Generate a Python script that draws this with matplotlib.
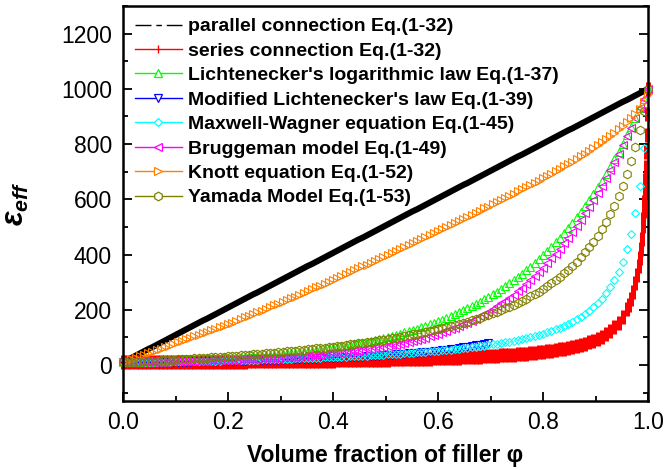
import matplotlib
matplotlib.use("Agg")
import matplotlib.pyplot as plt
from matplotlib.lines import Line2D
from matplotlib.ticker import MultipleLocator

plt.rcParams['font.family'] = ['Liberation Sans', 'DejaVu Sans']
plt.rcParams['mathtext.fontset'] = 'custom'
plt.rcParams['mathtext.it'] = 'Liberation Sans:italic:bold'
plt.rcParams['mathtext.rm'] = 'Liberation Sans:bold'
plt.rcParams['mathtext.bf'] = 'Liberation Sans:bold'

# ---------------- data ----------------
phi = [0.000, 0.008, 0.016, 0.024, 0.032, 0.040, 0.048, 0.056, 0.064, 0.072,
       0.080, 0.088, 0.096, 0.104, 0.112, 0.120, 0.128, 0.136, 0.144, 0.152,
       0.160, 0.168, 0.176, 0.184, 0.192, 0.200, 0.208, 0.216, 0.224, 0.232,
       0.240, 0.248, 0.256, 0.264, 0.272, 0.280, 0.288, 0.296, 0.304, 0.312,
       0.320, 0.328, 0.336, 0.344, 0.352, 0.360, 0.368, 0.376, 0.384, 0.392,
       0.400, 0.408, 0.416, 0.424, 0.432, 0.440, 0.448, 0.456, 0.464, 0.472,
       0.480, 0.488, 0.496, 0.504, 0.512, 0.520, 0.528, 0.536, 0.544, 0.552,
       0.560, 0.568, 0.576, 0.584, 0.592, 0.600, 0.608, 0.616, 0.624, 0.632,
       0.640, 0.648, 0.656, 0.664, 0.672, 0.680, 0.688, 0.696, 0.704, 0.712,
       0.720, 0.728, 0.736, 0.744, 0.752, 0.760, 0.768, 0.776, 0.784, 0.792,
       0.800, 0.808, 0.816, 0.824, 0.832, 0.840, 0.848, 0.856, 0.864, 0.872,
       0.880, 0.888, 0.896, 0.904, 0.912, 0.920, 0.928, 0.936, 0.944, 0.952,
       0.960, 0.968, 0.976, 0.984, 0.992, 1.000]

parallel = [10, 18, 26, 34, 42, 50, 58, 65, 73, 81,
            89, 97, 105, 113, 121, 129, 137, 145, 153, 161,
            168, 176, 184, 192, 200, 208, 216, 224, 232, 240,
            248, 256, 263, 271, 279, 287, 295, 303, 311, 319,
            327, 335, 343, 351, 359, 366, 374, 382, 390, 398,
            406, 414, 422, 430, 438, 446, 454, 461, 469, 477,
            485, 493, 501, 509, 517, 525, 533, 541, 549, 557,
            564, 572, 580, 588, 596, 604, 612, 620, 628, 636,
            644, 652, 659, 667, 675, 683, 691, 699, 707, 715,
            723, 731, 739, 747, 755, 762, 770, 778, 786, 794,
            802, 810, 818, 826, 834, 842, 850, 857, 865, 873,
            881, 889, 897, 905, 913, 921, 929, 937, 945, 953,
            960, 968, 976, 984, 992, 1000]

phi_series_tail = [0.964, 0.968, 0.972, 0.976, 0.979, 0.982, 0.984, 0.986, 0.988, 0.990,
                   0.991, 0.992, 0.993, 0.994, 0.995, 0.996, 0.997, 0.998, 0.999, 1.000]
series = [10.00, 10.08, 10.16, 10.24, 10.33, 10.41, 10.50, 10.59, 10.68, 10.77,
          10.86, 10.95, 11.05, 11.15, 11.25, 11.35, 11.45, 11.56, 11.66, 11.77,
          11.88, 12.00, 12.11, 12.23, 12.35, 12.47, 12.59, 12.72, 12.85, 12.98,
          13.12, 13.25, 13.39, 13.54, 13.69, 13.84, 13.99, 14.15, 14.31, 14.47,
          14.64, 14.81, 14.98, 15.16, 15.35, 15.54, 15.73, 15.93, 16.13, 16.34,
          16.56, 16.78, 17.00, 17.23, 17.47, 17.72, 17.97, 18.23, 18.50, 18.77,
          19.05, 19.35, 19.65, 19.96, 20.28, 20.61, 20.95, 21.31, 21.67, 22.05,
          22.44, 22.85, 23.27, 23.71, 24.16, 24.63, 25.12, 25.63, 26.16, 26.72,
          27.29, 27.90, 28.53, 29.19, 29.88, 30.60, 31.36, 32.16, 33.00, 33.88,
          34.82, 35.81, 36.85, 37.96, 39.14, 40.39, 41.72, 43.15, 44.67, 46.31,
          48.08, 49.98, 52.04, 54.28, 56.72, 59.38, 62.31, 65.55, 69.14, 73.14,
          77.64, 82.73, 88.53, 95.20, 103.0, 112.1, 123.0, 136.3, 152.8, 173.9,
          201.6,
          219.1, 239.9, 265.1, 296.2, 324.8, 359.5, 387.0, 419.1, 457.0, 502.5,
          528.8, 558.0, 590.7, 627.4, 668.9, 716.3, 771.0, 834.7, 909.9, 1000]

lichtenecker = [10.0, 10.4, 10.8, 11.2, 11.6, 12.0, 12.5, 12.9, 13.4, 13.9,
                14.5, 15.0, 15.6, 16.1, 16.7, 17.4, 18.0, 18.7, 19.4, 20.1,
                20.9, 21.7, 22.5, 23.3, 24.2, 25.1, 26.1, 27.0, 28.1, 29.1,
                30.2, 31.3, 32.5, 33.7, 35.0, 36.3, 37.7, 39.1, 40.6, 42.1,
                43.7, 45.3, 47.0, 48.8, 50.6, 52.5, 54.5, 56.5, 58.6, 60.8,
                63.1, 65.5, 67.9, 70.5, 73.1, 75.9, 78.7, 81.7, 84.7, 87.9,
                91.2, 94.6, 98.2, 102, 106, 110, 114, 118, 122, 127,
                132, 137, 142, 147, 153, 158, 164, 171, 177, 184,
                191, 198, 205, 213, 221, 229, 238, 247, 256, 265,
                275, 286, 296, 308, 319, 331, 344, 356, 370, 384,
                398, 413, 428, 445, 461, 479, 497, 515, 535, 555,
                575, 597, 619, 643, 667, 692, 718, 745, 773, 802,
                832, 863, 895, 929, 964, 1000]

mod_lichtenecker = [10.0, 10.2, 10.3, 10.5, 10.7, 10.8, 11.0, 11.2, 11.4, 11.6,
                    11.7, 12.0, 12.2, 12.4, 12.6, 12.8, 13.0, 13.3, 13.5, 13.7,
                    14.0, 14.2, 14.5, 14.8, 15.0, 15.3, 15.6, 15.9, 16.2, 16.5,
                    16.9, 17.2, 17.6, 17.9, 18.3, 18.7, 19.0, 19.5, 19.9, 20.3,
                    20.7, 21.2, 21.7, 22.1, 22.6, 23.2, 23.7, 24.2, 24.8, 25.4,
                    26.0, 26.6, 27.3, 28.0, 28.7, 29.4, 30.2, 31.0, 31.8, 32.6,
                    33.5, 34.4, 35.4, 36.4, 37.4, 38.5, 39.6, 40.7, 42.0, 43.2,
                    44.6, 45.9, 47.4, 48.9, 50.5, 52.2, 53.9, 55.7, 57.7, 59.7,
                    61.8, 64.1, 66.4, 68.9, 71.5, 74.3, 77.2, 80.3]

maxwell_wagner = [10.0, 10.2, 10.5, 10.7, 11.0, 11.2, 11.5, 11.7, 12.0, 12.3,
                  12.5, 12.8, 13.1, 13.4, 13.7, 14.0, 14.3, 14.6, 14.9, 15.2,
                  15.5, 15.8, 16.2, 16.5, 16.9, 17.2, 17.6, 18.0, 18.3, 18.7,
                  19.1, 19.5, 19.9, 20.3, 20.8, 21.2, 21.6, 22.1, 22.6, 23.0,
                  23.5, 24.0, 24.5, 25.0, 25.6, 26.1, 26.7, 27.2, 27.8, 28.4,
                  29.0, 29.7, 30.3, 31.0, 31.7, 32.4, 33.1, 33.8, 34.6, 35.4,
                  36.2, 37.0, 37.8, 38.7, 39.6, 40.6, 41.5, 42.5, 43.6, 44.6,
                  45.7, 46.9, 48.0, 49.3, 50.5, 51.8, 53.2, 54.6, 56.1, 57.6,
                  59.2, 60.9, 62.6, 64.4, 66.3, 68.2, 70.3, 72.5, 74.7, 77.1,
                  79.6, 82.2, 85.0, 88.0, 91.1, 94.3, 97.8, 101, 106, 110,
                  114, 119, 124, 130, 136, 142, 150, 157, 166, 175,
                  186, 197, 210, 225, 241, 260, 282, 308, 338, 375,
                  420, 476, 549, 648, 787, 1000]

bruggeman = [10.0, 10.2, 10.5, 10.7, 11.0, 11.3, 11.6, 11.8, 12.1, 12.4,
             12.7, 13.1, 13.4, 13.8, 14.1, 14.5, 14.9, 15.3, 15.7, 16.1,
             16.6, 17.0, 17.5, 18.0, 18.5, 19.0, 19.6, 20.1, 20.7, 21.4,
             22.0, 22.7, 23.4, 24.1, 24.8, 25.6, 26.4, 27.2, 28.1, 29.0,
             29.9, 31.0, 32.1, 33.1, 34.2, 35.3, 36.6, 37.9, 39.2, 40.5,
             42.1, 43.6, 45.1, 46.8, 48.5, 50.3, 52.4, 54.4, 56.5, 58.6,
             60.8, 63.4, 65.9, 68.4, 71.2, 74.2, 77.2, 80.3, 83.8, 87.3,
             91.0, 95.0, 99.0, 104, 108, 113, 118, 123, 129, 135,
             140, 147, 154, 161, 168, 176, 184, 193, 202, 213,
             223, 233, 244, 255, 268, 280, 293, 307, 322, 336,
             352, 369, 386, 403, 422, 441, 461, 482, 503, 526,
             549, 573, 598, 624, 650, 678, 706, 735, 765, 796,
             828, 860, 894, 929, 964, 1000]

knott = [10.0, 15.5, 21.0, 26.6, 32.1, 37.6, 43.1, 48.6, 54.2, 59.7,
         65.2, 70.7, 76.2, 81.8, 87.3, 92.8, 98.3, 104, 109, 115,
         120, 126, 131, 137, 142, 148, 154, 160, 166, 173,
         179, 185, 191, 197, 203, 210, 216, 222, 228, 235,
         242, 248, 255, 262, 268, 275, 281, 288, 295, 301,
         308, 315, 322, 329, 336, 343, 350, 357, 364, 371,
         378, 385, 392, 399, 406, 413, 420, 427, 435, 442,
         449, 456, 463, 471, 478, 485, 492, 500, 507, 515,
         522, 530, 537, 545, 552, 559, 567, 574, 582, 590,
         598, 605, 613, 621, 629, 637, 645, 652, 660, 668,
         676, 685, 693, 702, 710, 719, 727, 737, 747, 757,
         766, 776, 786, 797, 808, 820, 831, 842, 854, 866,
         880, 894, 908, 928, 954, 980]

yamada = [10.0, 10.7, 11.5, 12.2, 13.0, 13.8, 14.6, 15.4, 16.2, 17.0,
          17.8, 18.7, 19.6, 20.4, 21.3, 22.2, 23.2, 24.1, 25.0, 26.0,
          27.0, 28.0, 29.0, 30.1, 31.1, 32.2, 33.3, 34.4, 35.5, 36.7,
          37.9, 39.1, 40.3, 41.5, 42.8, 44.1, 45.4, 46.8, 48.1, 49.5,
          51.0, 52.4, 53.9, 55.4, 57.0, 58.6, 60.2, 61.9, 63.6, 65.3,
          67.1, 68.9, 70.7, 72.6, 74.6, 76.6, 78.6, 80.7, 82.8, 85.0,
          87.3, 89.6, 92.0, 94.4, 96.9, 99.5, 102, 105, 108, 111,
          114, 117, 120, 123, 126, 130, 133, 137, 141, 145,
          149, 153, 157, 162, 167, 172, 177, 182, 187, 193,
          199, 205, 212, 218, 225, 233, 241, 249, 257, 266,
          276, 286, 296, 308, 319, 332, 345, 359, 375, 391,
          408, 427, 447, 469, 493, 518, 546, 577, 611, 649,
          691, 738, 791, 851, 920, 1000]

labels = ["parallel connection Eq.(1-32)",
          "series connection Eq.(1-32)",
          "Lichtenecker's logarithmic law Eq.(1-37)",
          "Modified Lichtenecker's law Eq.(1-39)",
          "Maxwell-Wagner equation Eq.(1-45)",
          "Bruggeman model Eq.(1-49)",
          "Knott equation Eq.(1-52)",
          "Yamada Model Eq.(1-53)"]
colors = ["#000000", "#FF0000", "#00FF00", "#0000FF",
          "#00FFFF", "#FF00FF", "#FF8000", "#808000"]

phi_series = phi[:121] + phi_series_tail
phi_mod = phi[:len(mod_lichtenecker)]

# ---------------- figure ----------------
fig = plt.figure(figsize=(6.65, 4.70), dpi=100)
ax = fig.add_axes([123 / 665, 69 / 470, 525 / 665, 395 / 470])

ms = 6.2
mew = 0.8
ax.plot(phi, parallel, ls='-', lw=4.4, color=colors[0], clip_on=False,
        zorder=3, solid_capstyle='butt')
ax.plot(phi_series, series, ls='none', marker='|', ms=10.5, mew=3.6,
        color=colors[1], clip_on=False, zorder=3)
ax.plot(phi, lichtenecker, ls='none', marker='^', ms=ms, mew=mew,
        mfc='none', mec=colors[2], clip_on=False, zorder=3)
ax.plot(phi_mod, mod_lichtenecker, ls='none', marker='v', ms=ms, mew=mew,
        mfc='none', mec=colors[3], clip_on=False, zorder=3)
ax.plot(phi, maxwell_wagner, ls='none', marker='D', ms=4.4, mew=mew,
        mfc='none', mec=colors[4], clip_on=False, zorder=3)
ax.plot(phi, bruggeman, ls='none', marker='<', ms=ms, mew=mew,
        mfc='none', mec=colors[5], clip_on=False, zorder=3)
ax.plot(phi, knott, ls='none', marker='>', ms=ms, mew=mew,
        mfc='none', mec=colors[6], clip_on=False, zorder=3)
ax.plot(phi, yamada, ls='none', marker='h', ms=ms, mew=mew,
        mfc='none', mec=colors[7], clip_on=False, zorder=3)

ax.set_xlim(0, 1.0)
ax.set_ylim(-130, 1300)
ax.xaxis.set_minor_locator(MultipleLocator(0.1))
ax.yaxis.set_minor_locator(MultipleLocator(100))
ax.set_xticks([0, 0.2, 0.4, 0.6, 0.8, 1.0])
ax.set_xticklabels(["0.0", "0.2", "0.4", "0.6", "0.8", "1.0"])
ax.set_yticks([0, 200, 400, 600, 800, 1000, 1200])

for s in ax.spines.values():
    s.set_linewidth(1.8)
    s.set_zorder(4)
ax.tick_params(axis='both', which='major', direction='in', length=6.5, width=1.3,
               labelsize=16.5, right=True, top=False)
ax.tick_params(axis='both', which='minor', direction='in', length=3.6, width=1.3,
               right=True, top=False)
ax.tick_params(axis='x', which='major', pad=7)
ax.tick_params(axis='y', which='major', pad=8)

ax.set_xlabel("Volume fraction of filler \u03c6", fontsize=16.5, fontweight='bold')
ax.xaxis.set_label_coords(0.5, -0.11)
ax.set_ylabel(r"$\varepsilon_{eff}$", fontsize=22)
ax.yaxis.set_label_coords(-0.175, 0.5)

# legend
markers = ['_', '|', '^', 'v', 'D', '<', '>', 'h']
handles = []
for k, (c, m) in enumerate(zip(colors, markers)):
    if k == 0:
        h = Line2D([], [], color=c, lw=1.0, dashes=(11.5, 3.5, 4.0, 3.5))
    elif k == 1:
        h = Line2D([], [], color=c, lw=1.0, marker='|', ms=6, mew=1.0)
    else:
        h = Line2D([], [], color=c, lw=1.0, marker=m, ms=6.2 if m != 'D' else 4.4,
                   mew=0.9, mfc='white', mec=c)
    handles.append(h)
leg = ax.legend(handles, labels, loc='upper left', bbox_to_anchor=(0.023, 0.97),
                frameon=False, borderaxespad=0, borderpad=0,
                handlelength=2.4, handletextpad=0.32, labelspacing=0.35,
                prop={'size': 14, 'weight': 'bold'})

fig.savefig("out.png", dpi=100)
